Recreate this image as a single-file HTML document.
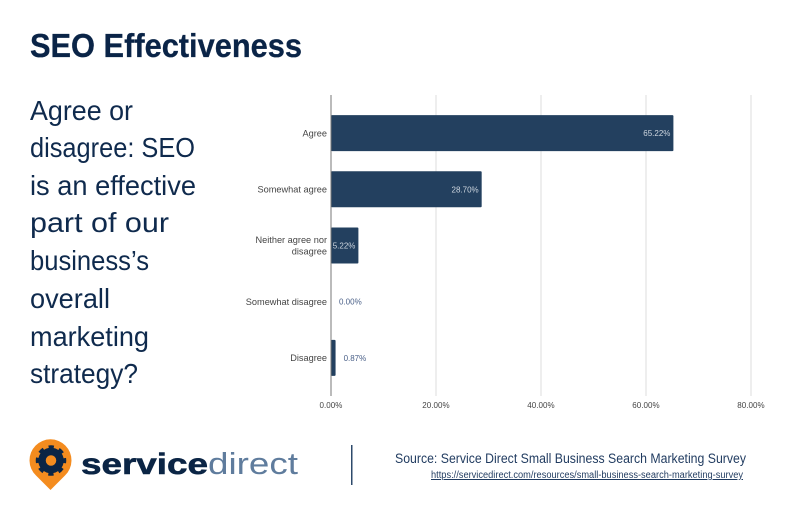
<!DOCTYPE html>
<html lang="en">
<head>
<meta charset="utf-8">
<title>SEO Effectiveness</title>
<style>
html,body{margin:0;padding:0;background:#fff;}
body{width:791px;height:506px;overflow:hidden;}
svg{display:block;}
text{font-family:"Liberation Sans",Arial,sans-serif;}
</style>
</head>
<body>
<svg id="root" width="791" height="506" viewBox="0 0 791 506" xmlns="http://www.w3.org/2000/svg">
  <rect width="791" height="506" fill="#ffffff"/>
  <text x="30" y="57" font-size="33.5" font-weight="700" fill="#0a2447" stroke="#0a2447" stroke-width="0.3" textLength="272" lengthAdjust="spacingAndGlyphs">SEO Effectiveness</text>

  <g font-size="27.5" fill="#0f2a4d">
    <text x="30" y="120" textLength="103" lengthAdjust="spacingAndGlyphs">Agree or</text>
    <text x="30" y="157" textLength="165" lengthAdjust="spacingAndGlyphs">disagree: SEO</text>
    <text x="30" y="195" textLength="166" lengthAdjust="spacingAndGlyphs">is an effective</text>
    <text x="30" y="232" textLength="139" lengthAdjust="spacingAndGlyphs">part of our</text>
    <text x="30" y="270" textLength="119" lengthAdjust="spacingAndGlyphs">business’s</text>
    <text x="30" y="308" textLength="80" lengthAdjust="spacingAndGlyphs">overall</text>
    <text x="30" y="346" textLength="119" lengthAdjust="spacingAndGlyphs">marketing</text>
    <text x="30" y="383" textLength="108" lengthAdjust="spacingAndGlyphs">strategy?</text>
  </g>

  <g id="chart"></g>

  <g>
    <path d="M50.5 490 L36 475.5 A21 21 0 1 1 65 475.5 Z" fill="#f48c1f"/>
    <g fill="none" stroke="#0b2545">
      <circle cx="51" cy="460.5" r="9" stroke-width="7.5"/>
      <circle cx="51" cy="460.5" r="13.5" stroke-width="3.5" stroke-dasharray="5.3 5.3" stroke-dashoffset="2.65"/>
    </g>
    <text x="81" y="474" font-size="30" font-weight="700" fill="#0b2545" stroke="#0b2545" stroke-width="0.6" textLength="127" lengthAdjust="spacingAndGlyphs">service</text>
    <text x="208" y="474" font-size="31" fill="#5f7c9d" textLength="90" lengthAdjust="spacingAndGlyphs">direct</text>
  </g>
  <rect x="351" y="445" width="1.5" height="40" fill="#2d4a6b"/>
  <text x="395" y="463" font-size="13.5" fill="#1f3a5f" textLength="351" lengthAdjust="spacingAndGlyphs">Source: Service Direct Small Business Search Marketing Survey</text>
  <a>
    <text x="431" y="478" font-size="10" fill="#1f3a5f" text-decoration="underline" textLength="312" lengthAdjust="spacingAndGlyphs">https://servicedirect.com/resources/small-business-search-marketing-survey</text>
  </a>
</svg>
<script>
const categories = [["Agree"], ["Somewhat agree"], ["Neither agree nor", "disagree"], ["Somewhat disagree"], ["Disagree"]];
const seriesValues = [65.22, 28.70, 5.22, 0.00, 0.87];
const valueLabels = ["65.22%", "28.70%", "5.22%", "0.00%", "0.87%"];
const tickValues = [0, 20, 40, 60, 80];
const tickLabels = ["0.00%", "20.00%", "40.00%", "60.00%", "80.00%"];

const NS = "http://www.w3.org/2000/svg";
const chart = document.getElementById("chart");
const plot = { left: 331, right: 751, top: 95, bottom: 396, axisMax: 80 };
const xScale = v => plot.left + (v / plot.axisMax) * (plot.right - plot.left);
const yScale = i => plot.top + 10 + (i + 0.5) * ((plot.bottom - plot.top - 20) / categories.length);
const barHeight = 36;

function make(tag, attrs, text) {
  const el = document.createElementNS(NS, tag);
  for (const k in attrs) el.setAttribute(k, attrs[k]);
  if (text !== undefined) el.textContent = text;
  chart.appendChild(el);
  return el;
}

tickValues.forEach((v, i) => {
  if (v !== 0) {
    const grid = make("rect", { x: xScale(v) - 0.5, y: plot.top, width: 1, height: plot.bottom - plot.top, fill: "#dddddd" });
    
    
  }
  const tick = make("text", { x: xScale(v), y: 408, "font-size": 8, "letter-spacing": 0.05, fill: "#444444", "text-anchor": "middle" }, tickLabels[i]);
  
  
});

seriesValues.forEach((v, i) => {
  const cy = yScale(i);
  const bar = make("rect", { x: plot.left, y: cy - barHeight / 2, width: Math.max(0, xScale(v) - plot.left), height: barHeight, rx: 1, fill: "#23405f" });
  
  

  const lines = categories[i];
  lines.forEach((line, j) => {
    const lab = make("text", { x: 327, y: cy + 3.2 + (j - (lines.length - 1) / 2) * 11.5, "font-size": 9.2, fill: "#444444", "text-anchor": "end" }, line);
    
    
  });

  const inside = v > 4;
  const val = make("text", {
    x: inside ? xScale(v) - 3 : xScale(v) + 8,
    y: cy + 3,
    "font-size": 8,
    fill: inside ? "#ced6df" : "#4a6088",
    "text-anchor": inside ? "end" : "start"
  }, valueLabels[i]);
  
  
});

const axis = make("rect", { x: plot.left - 0.5, y: plot.top, width: 1, height: plot.bottom - plot.top, fill: "#777777" });


</script>
</body>
</html>
